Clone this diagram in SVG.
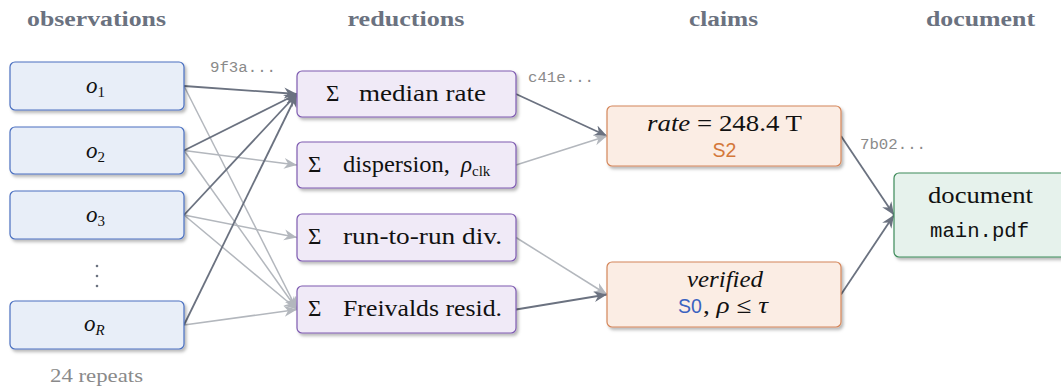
<svg xmlns="http://www.w3.org/2000/svg" width="1061" height="386" viewBox="0 0 1061 386">
<style>
.hdr{font-family:"Liberation Serif","DejaVu Serif",serif;font-weight:bold;font-size:20px;fill:#6b7280;text-anchor:middle}
.lbl{font-family:"Liberation Serif","DejaVu Serif",serif;font-size:23px;fill:#111}
.it{font-style:italic}
.sub{font-size:15px}
.hash{font-family:"Liberation Mono","DejaVu Sans Mono",monospace;font-size:14px;fill:#8a8a8a}
.sans{font-family:"Liberation Sans","DejaVu Sans",sans-serif;font-size:19.5px}
.obs rect{fill:#e8eef8;stroke:#4a6fc0;stroke-width:1.2}
.red rect{fill:#f0eaf7;stroke:#7e5bb0;stroke-width:1.2}
.clm rect{fill:#fbede4;stroke:#d4865a;stroke-width:1.2}
.doc rect{fill:#e6f2ec;stroke:#3d8b5a;stroke-width:1.2}
.dk{stroke:#6b7280;stroke-width:1.8;fill:none;marker-end:url(#ad)}
.lt{stroke:#b3b7bd;stroke-width:1.5;fill:none;marker-end:url(#al)}
</style>
<defs>
<filter id="sh" x="-10%" y="-20%" width="130%" height="160%">
<feDropShadow dx="2" dy="2.5" stdDeviation="1.6" flood-color="#000" flood-opacity="0.28"/>
</filter>
<marker id="ad" markerUnits="userSpaceOnUse" markerWidth="15" markerHeight="13" refX="13" refY="6.5" orient="auto">
<path d="M0,1 L13,6.5 L0,12 L4,6.5 Z" fill="#6b7280"/>
</marker>
<marker id="al" markerUnits="userSpaceOnUse" markerWidth="15" markerHeight="13" refX="13" refY="6.5" orient="auto">
<path d="M0,1 L13,6.5 L0,12 L4,6.5 Z" fill="#b3b7bd"/>
</marker>
</defs>
<rect width="1061" height="386" fill="#fff"/>

<g id="headers">
<text class="hdr" x="96.5" y="26" textLength="139" lengthAdjust="spacingAndGlyphs">observations</text>
<text class="hdr" x="406" y="26" textLength="117" lengthAdjust="spacingAndGlyphs">reductions</text>
<text class="hdr" x="723.5" y="26" textLength="69" lengthAdjust="spacingAndGlyphs">claims</text>
<text class="hdr" x="980.5" y="26" textLength="109" lengthAdjust="spacingAndGlyphs">document</text>
</g>

<g id="connectors">
<line class="lt" x1="184" y1="86" x2="297" y2="309.5"/>
<line class="lt" x1="184" y1="150.5" x2="297" y2="165"/>
<line class="lt" x1="184" y1="150.5" x2="297" y2="309.5"/>
<line class="lt" x1="184" y1="215" x2="297" y2="237.5"/>
<line class="lt" x1="184" y1="215" x2="297" y2="309.5"/>
<line class="lt" x1="184" y1="325" x2="297" y2="309.5"/>
<line class="dk" x1="184" y1="86" x2="297" y2="94"/>
<line class="dk" x1="184" y1="150.5" x2="297" y2="94"/>
<line class="dk" x1="184" y1="215" x2="297" y2="94"/>
<line class="dk" x1="184" y1="325" x2="297" y2="94"/>
<line class="dk" x1="516" y1="94" x2="607" y2="136"/>
<line class="lt" x1="516" y1="165" x2="607" y2="136"/>
<line class="lt" x1="516" y1="237.5" x2="607" y2="294.5"/>
<line class="dk" x1="516" y1="309.5" x2="607" y2="294.5"/>
<line class="dk" x1="841" y1="136" x2="894" y2="215"/>
<line class="dk" x1="841" y1="294.5" x2="894" y2="215"/>
<text class="hash" x="210" y="72" textLength="66" lengthAdjust="spacingAndGlyphs">9f3a...</text>
<text class="hash" x="528" y="82" textLength="66" lengthAdjust="spacingAndGlyphs">c41e...</text>
<text class="hash" x="860" y="149" textLength="66" lengthAdjust="spacingAndGlyphs">7b02...</text>
</g>

<g id="o1" class="obs">
<rect x="10" y="62" width="174" height="48" rx="5" filter="url(#sh)"/>
<text class="lbl" x="86" y="93"><tspan class="it">o</tspan><tspan class="sub" dy="4">1</tspan></text>
</g>
<g id="o2" class="obs">
<rect x="10" y="127" width="174" height="47" rx="5" filter="url(#sh)"/>
<text class="lbl" x="86" y="157.5"><tspan class="it">o</tspan><tspan class="sub" dy="4">2</tspan></text>
</g>
<g id="o3" class="obs">
<rect x="10" y="191" width="174" height="48" rx="5" filter="url(#sh)"/>
<text class="lbl" x="86" y="222"><tspan class="it">o</tspan><tspan class="sub" dy="4">3</tspan></text>
</g>
<g id="dots" fill="#6b7280">
<circle cx="97" cy="266" r="1.3"/>
<circle cx="97" cy="276" r="1.3"/>
<circle cx="97" cy="286" r="1.3"/>
</g>
<g id="oR" class="obs">
<rect x="10" y="301" width="174" height="48" rx="5" filter="url(#sh)"/>
<text class="lbl" x="84" y="331"><tspan class="it">o</tspan><tspan class="sub it" dy="4">R</tspan></text>
</g>
<text id="repeats" class="lbl" x="96.5" y="382" style="fill:#8a8a8a;font-size:18px" text-anchor="middle" textLength="93" lengthAdjust="spacingAndGlyphs">24 repeats</text>

<g id="r-median" class="red">
<rect x="297" y="71" width="219" height="46" rx="5" filter="url(#sh)"/>
<text class="lbl" x="326" y="101">Σ</text>
<text class="lbl" x="359" y="101" textLength="127" lengthAdjust="spacingAndGlyphs">median rate</text>
</g>
<g id="r-dispersion" class="red">
<rect x="297" y="142" width="219" height="46" rx="5" filter="url(#sh)"/>
<text class="lbl" x="308" y="172">Σ</text>
<text class="lbl" x="343" y="172" textLength="107" lengthAdjust="spacingAndGlyphs">dispersion,</text>
<text class="lbl" x="461" y="172"><tspan class="it">ρ</tspan><tspan class="sub" dy="3.5">clk</tspan></text>
</g>
<g id="r-run" class="red">
<rect x="297" y="214" width="219" height="47" rx="5" filter="url(#sh)"/>
<text class="lbl" x="308" y="244">Σ</text>
<text class="lbl" x="343" y="244" textLength="159" lengthAdjust="spacingAndGlyphs">run-to-run div.</text>
</g>
<g id="r-freivalds" class="red">
<rect x="297" y="286" width="219" height="47" rx="5" filter="url(#sh)"/>
<text class="lbl" x="308" y="316">Σ</text>
<text class="lbl" x="343" y="316" textLength="159" lengthAdjust="spacingAndGlyphs">Freivalds resid.</text>
</g>

<g id="c-rate" class="clm">
<rect x="607" y="106" width="234" height="60" rx="5" filter="url(#sh)"/>
<text class="lbl" x="647" y="131" textLength="155" lengthAdjust="spacingAndGlyphs"><tspan class="it">rate</tspan> = 248.4 T</text>
<text class="sans" x="724.5" y="157" fill="#d4783a" text-anchor="middle">S2</text>
</g>
<g id="c-verified" class="clm">
<rect x="607" y="262" width="234" height="65" rx="5" filter="url(#sh)"/>
<text class="lbl it" x="687" y="287" textLength="76" lengthAdjust="spacingAndGlyphs">verified</text>
<text class="sans" x="678" y="313" fill="#3a62c0">S0</text>
<text class="lbl" x="703" y="313" textLength="65" lengthAdjust="spacingAndGlyphs">, <tspan class="it">ρ</tspan> ≤ <tspan class="it">τ</tspan></text>
</g>

<g id="document" class="doc">
<rect x="894" y="173" width="174" height="84" rx="5" filter="url(#sh)"/>
<text class="lbl" x="928" y="203" textLength="105" lengthAdjust="spacingAndGlyphs">document</text>
<text x="930" y="237" font-family="Liberation Mono, DejaVu Sans Mono, monospace" font-size="20" fill="#111" textLength="99" lengthAdjust="spacingAndGlyphs">main.pdf</text>
</g>
</svg>
